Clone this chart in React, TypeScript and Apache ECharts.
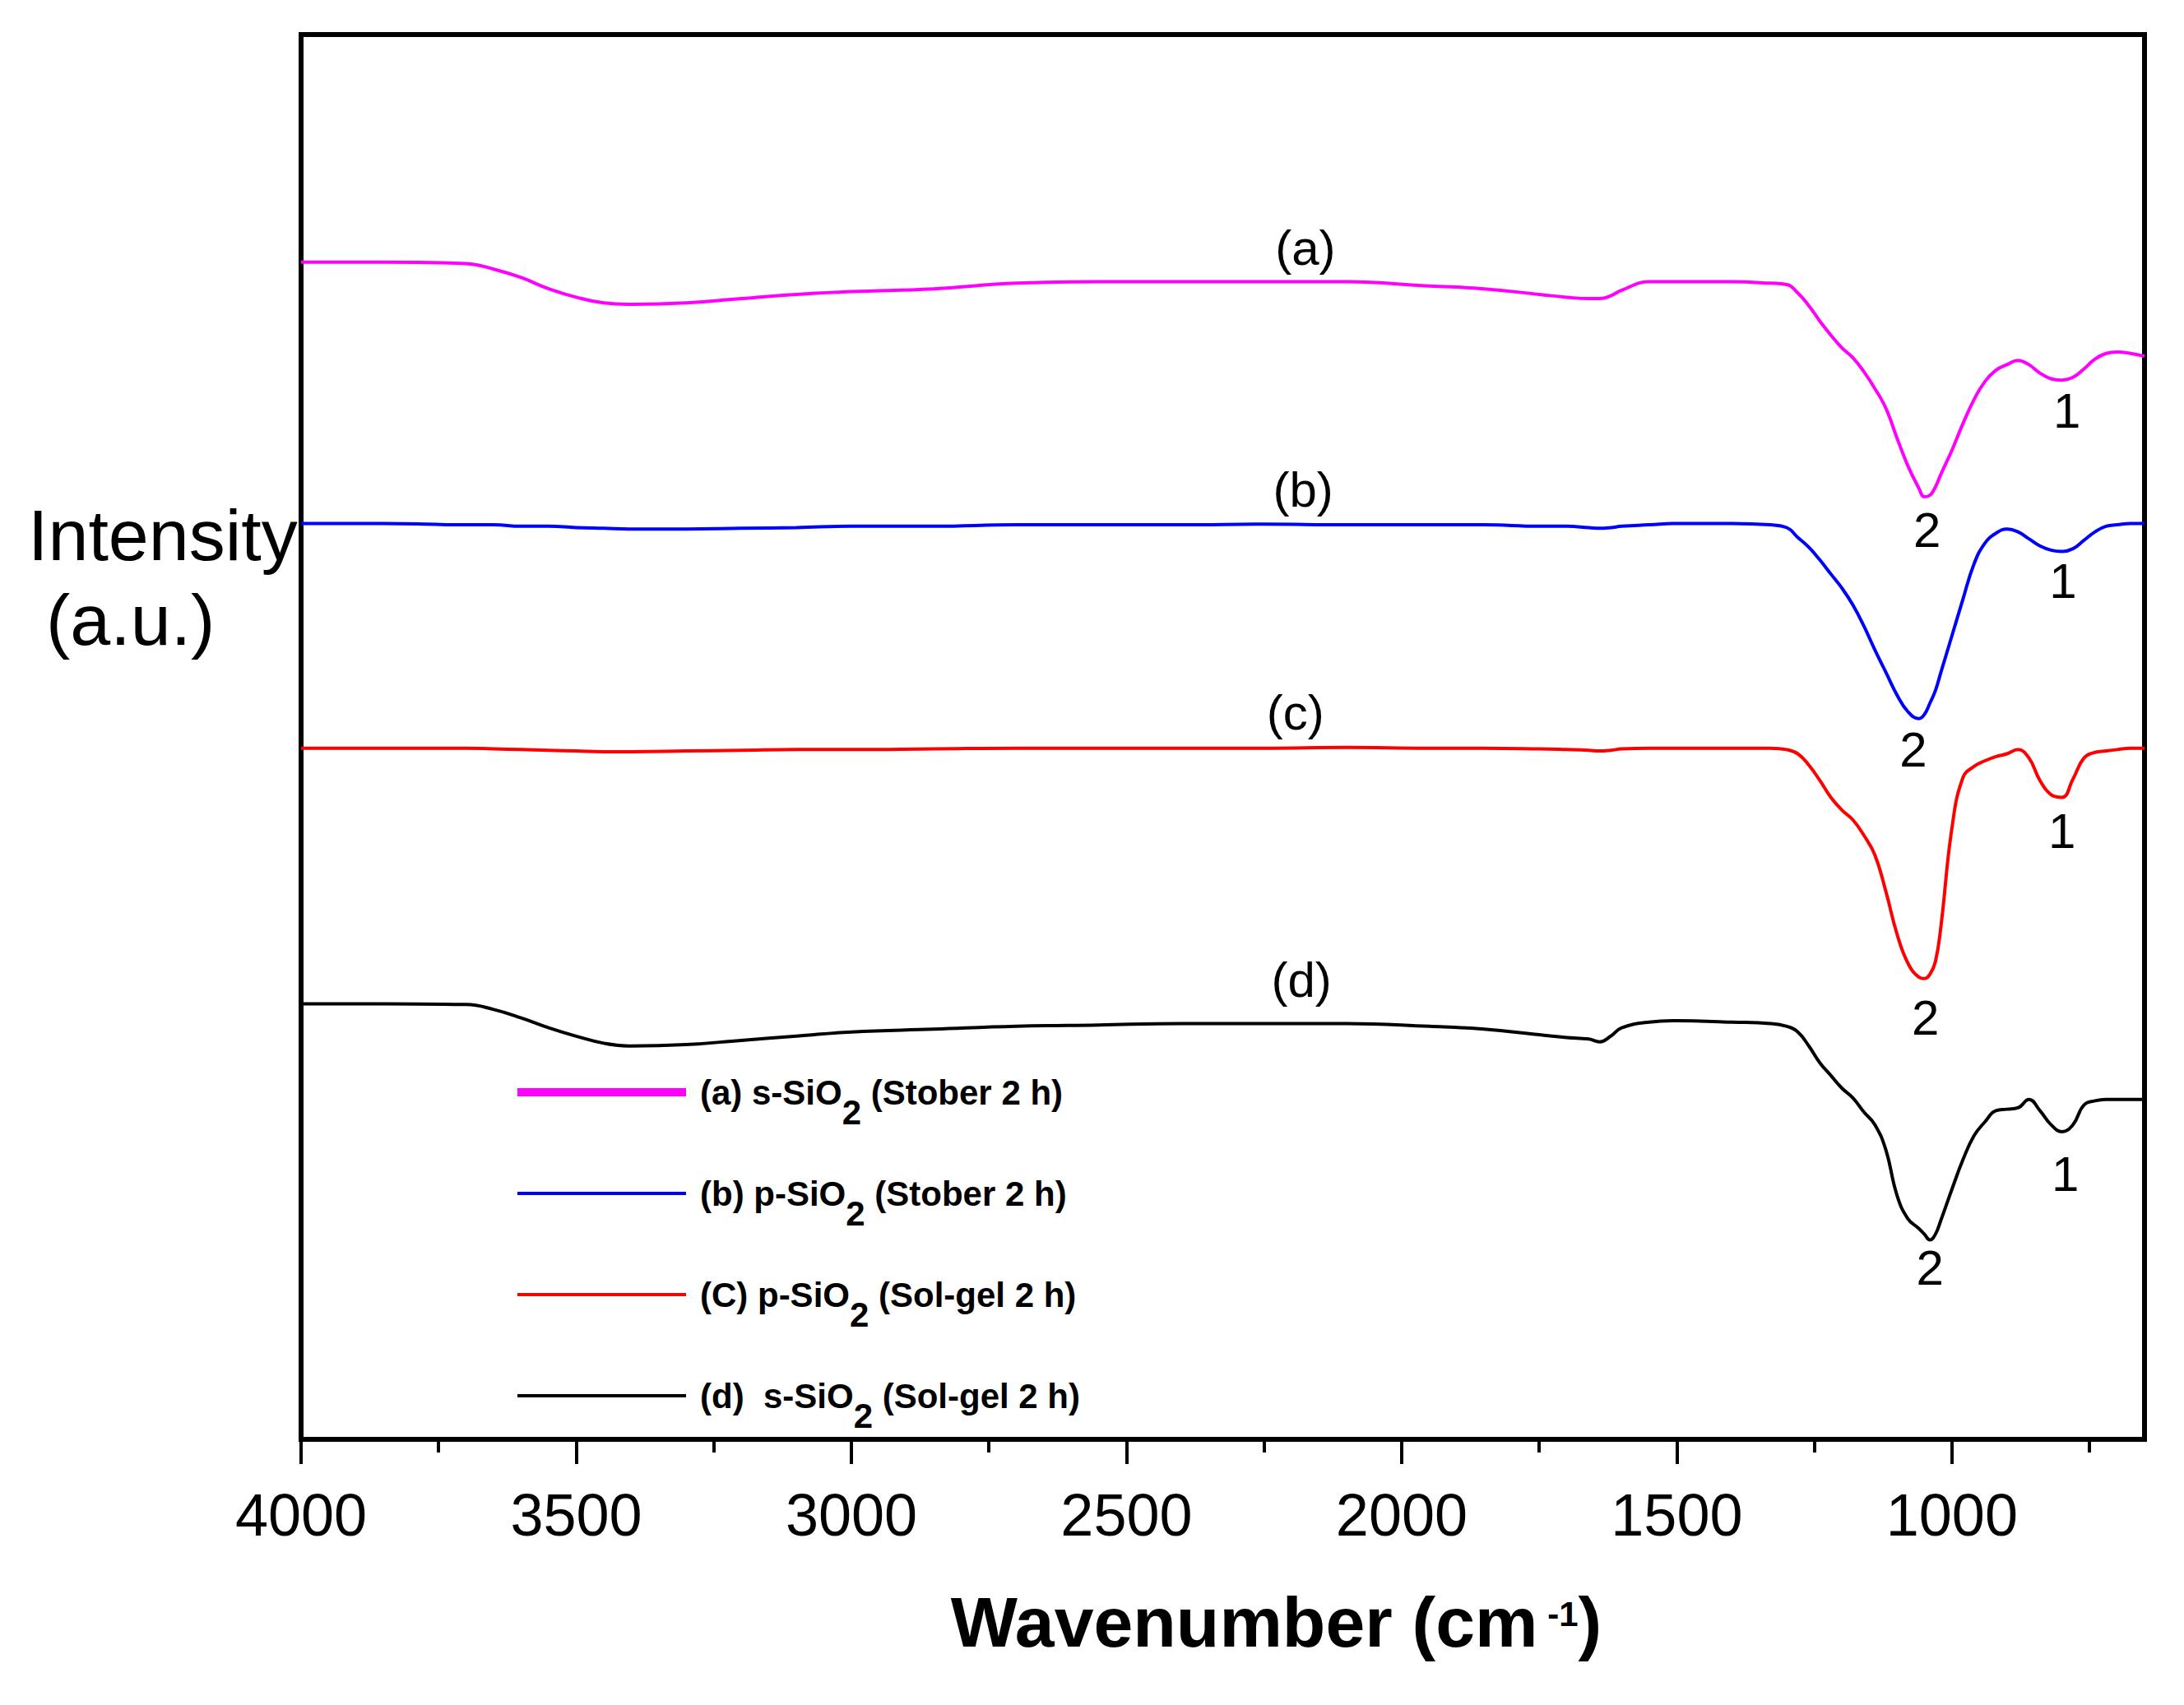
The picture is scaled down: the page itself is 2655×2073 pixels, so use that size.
import { useEffect, useRef } from 'react';
import * as echarts from 'echarts';

const FONT = "'Liberation Sans', Arial, sans-serif";

// wavenumber grid (cm-1), shared by the four spectra
const WAVENUMBERS = [
  4000, 3850, 3700, 3650, 3600, 3550, 3500, 3450, 3400, 3300, 3200, 3100, 3000,
  2850, 2700, 2550, 2400, 2250, 2100, 1950, 1850, 1750, 1700, 1660, 1640, 1620,
  1600, 1550, 1500, 1400, 1330, 1300, 1280, 1260, 1240, 1220, 1200, 1180, 1160,
  1140, 1120, 1100, 1080, 1060, 1050, 1040, 1030, 1020, 1000, 980, 960, 940, 920,
  900, 880, 860, 840, 820, 800, 780, 760, 740, 720, 700, 675, 650,
];

const SERIES_A = [
  83.8, 83.8, 83.7, 83.3, 82.7, 81.9, 81.3, 80.9, 80.8, 80.9, 81.2, 81.5, 81.7,
  81.9, 82.3, 82.4, 82.4, 82.4, 82.4, 82.1, 81.9, 81.5, 81.3, 81.2, 81.2, 81.4,
  81.8, 82.4, 82.4, 82.4, 82.3, 82.2, 81.6, 80.7, 79.6, 78.6, 77.7, 77.0, 76.0,
  74.8, 73.4, 71.3, 69.3, 67.7, 67.1, 67.2, 67.8, 68.7, 70.4, 72.3, 74.0, 75.3, 76.1,
  76.5, 76.8, 76.5, 75.9, 75.5, 75.4, 75.6, 76.2, 76.9, 77.3, 77.4, 77.3, 77.1,
];

const SERIES_B = [
  65.2, 65.2, 65.1, 65.1, 65.0, 65.0, 64.9, 64.85, 64.8, 64.8, 64.85, 64.9, 65.0,
  65.0, 65.1, 65.1, 65.1, 65.15, 65.1, 65.1, 65.1, 65.0, 65.0, 64.9, 64.85, 64.9,
  65.0, 65.1, 65.2, 65.2, 65.1, 64.9, 64.2, 63.5, 62.6, 61.6, 60.6, 59.4, 57.9,
  56.2, 54.6, 53.0, 51.8, 51.3, 51.6, 52.4, 53.3, 54.6, 57.2, 59.8, 62.3, 63.8, 64.5,
  64.8, 64.6, 64.1, 63.6, 63.3, 63.2, 63.4, 64.0, 64.6, 65.0, 65.1, 65.2, 65.2,
];

const SERIES_C = [
  49.2, 49.2, 49.2, 49.15, 49.1, 49.05, 49.0, 48.95, 48.95, 49.0, 49.05, 49.1, 49.1,
  49.15, 49.2, 49.2, 49.2, 49.2, 49.25, 49.2, 49.2, 49.15, 49.1, 49.05, 49.0, 49.05,
  49.15, 49.2, 49.2, 49.2, 49.2, 49.1, 48.8, 48.0, 46.9, 45.7, 44.8, 44.1, 43.0,
  41.6, 39.0, 36.0, 33.9, 32.9, 32.8, 33.1, 34.0, 36.5, 43.5, 47.1, 47.9, 48.3, 48.6,
  48.8, 49.1, 48.5, 46.9, 45.9, 45.7, 47.0, 48.5, 48.9, 49.0, 49.1, 49.2, 49.2,
];

const SERIES_D = [
  31.0, 31.0, 30.95, 30.6, 30.0, 29.3, 28.7, 28.2, 28.0, 28.1, 28.4, 28.7, 29.0,
  29.2, 29.4, 29.5, 29.6, 29.6, 29.6, 29.4, 29.2, 28.8, 28.6, 28.5, 28.3, 28.7,
  29.3, 29.7, 29.8, 29.7, 29.6, 29.4, 29.0, 28.0, 26.8, 25.9, 25.0, 24.3, 23.3,
  22.4, 20.6, 17.4, 15.7, 15.0, 14.6, 14.2, 14.6, 15.6, 17.8, 19.9, 21.6, 22.6, 23.4,
  23.5, 23.6, 24.2, 23.4, 22.4, 21.9, 22.4, 23.8, 24.1, 24.2, 24.2, 24.2, 24.2,
];

const SERIES_NAMES = [
  '(a) s-SiO2 (Stober 2 h)',
  '(b) p-SiO2 (Stober 2 h)',
  '(C) p-SiO2 (Sol-gel 2 h)',
  '(d)  s-SiO2 (Sol-gel 2 h)',
];
const SERIES_COLORS = ['#ff00ff', '#0000ff', '#ff0000', '#000000'];
const LEGEND_WIDTHS = [10, 4, 4, 4];

// curve tags and band labels: [wavenumber, intensity]
const CURVE_TAGS = ['(a)', '(b)', '(c)', '(d)'];
const TAG_POS = [[2175, 84.8], [2179, 67.6], [2193, 51.7], [2182, 32.7]];
const BAND2_POS = [[1045, 64.7], [1070, 49.1], [1048, 30.0], [1040, 12.2]];
const BAND1_POS = [[791, 73.2], [798, 61.1], [800, 43.3], [794, 18.9]];

const MAJOR_TICKS = [1000, 1500, 2000, 2500, 3000, 3500, 4000];
const MINOR_TICKS = [750, 1250, 1750, 2250, 2750, 3250, 3750];

export default function App() {
  const chartRef = useRef<HTMLDivElement>(null);

  useEffect(() => {
    if (!chartRef.current) return;
    document.body.style.margin = '0';
    const chart = echarts.init(chartRef.current, undefined, { renderer: 'svg' });

    const values = [SERIES_A, SERIES_B, SERIES_C, SERIES_D];

    const series = values.map((vals, i) => ({
      name: SERIES_NAMES[i],
      type: 'line' as const,
      symbol: 'none',
      smooth: 0.45,
      data: WAVENUMBERS.map((w, j) => [w, vals[j]]),
      lineStyle: { color: SERIES_COLORS[i], width: 4 },
      itemStyle: { color: SERIES_COLORS[i] },
      markPoint: {
        symbol: 'circle',
        symbolSize: 1,
        itemStyle: { color: 'transparent' },
        label: {
          show: true,
          position: 'inside',
          formatter: '{b}',
          color: '#000',
          fontSize: 60,
          fontFamily: FONT,
        },
        data: [
          { name: CURVE_TAGS[i], coord: TAG_POS[i] },
          { name: '2', coord: BAND2_POS[i] },
          { name: '1', coord: BAND1_POS[i] },
        ],
      },
    }));

    const option: echarts.EChartsOption = {
      animation: false,
      backgroundColor: '#ffffff',
      grid: {
        left: 366,
        right: 48,
        top: 42,
        bottom: 323,
        show: true,
        borderColor: '#000',
        borderWidth: 6,
      },
      legend: {
        orient: 'vertical',
        left: 624,
        top: 1283,
        padding: 0,
        itemWidth: 205,
        itemHeight: 12,
        itemGap: 33,
        data: SERIES_NAMES.map((n, i) => ({
          name: n,
          lineStyle: { width: LEGEND_WIDTHS[i] },
          itemStyle: { opacity: 0 },
        })),
        formatter: (name: string) => {
          const [pre, post] = name.split('SiO2');
          return `{p|${pre}SiO}{sub|2}{t|${post}}`;
        },
        textStyle: {
          rich: {
            p: {
              fontFamily: FONT,
              fontWeight: 'bold',
              fontSize: 42,
              color: '#000',
              lineHeight: 50,
              padding: [0, 0, 0, 12],
            },
            t: {
              fontFamily: FONT,
              fontWeight: 'bold',
              fontSize: 42,
              color: '#000',
              lineHeight: 50,
            },
            sub: {
              fontFamily: FONT,
              fontWeight: 'bold',
              fontSize: 42,
              color: '#000',
              lineHeight: 40,
              padding: [48, 0, 0, 0],
            },
          },
        },
      },
      xAxis: [
        {
          type: 'value',
          inverse: true,
          min: 650,
          max: 4000,
          name: '{b|Wavenumber (cm}{sup| -1}{b|)}',
          nameLocation: 'middle',
          nameGap: 170,
          nameTextStyle: {
            padding: [0, 0, 0, 130],
            rich: {
              b: { fontFamily: FONT, fontWeight: 'bold', fontSize: 86, color: '#000', lineHeight: 104 },
              sup: {
                fontFamily: FONT,
                fontWeight: 'bold',
                fontSize: 42,
                color: '#000',
                lineHeight: 42,
                padding: [0, 0, 20, 0],
              },
            },
          },
          axisLine: { show: true, lineStyle: { color: '#000', width: 6 } },
          axisTick: {
            show: true,
            customValues: MAJOR_TICKS,
            length: 30,
            lineStyle: { color: '#000', width: 4 },
          },
          axisLabel: {
            customValues: MAJOR_TICKS,
            formatter: (v: number) => String(v),
            margin: 56,
            fontSize: 72,
            fontFamily: FONT,
            color: '#000',
          },
          splitLine: { show: false },
        },
        {
          type: 'value',
          inverse: true,
          min: 650,
          max: 4000,
          position: 'bottom',
          axisLine: { show: false },
          axisTick: {
            show: true,
            customValues: MINOR_TICKS,
            length: 16,
            lineStyle: { color: '#000', width: 4 },
          },
          axisLabel: { show: false },
          splitLine: { show: false },
        },
      ],
      yAxis: {
        type: 'value',
        min: 0,
        max: 100,
        axisLine: { show: false },
        axisTick: { show: false },
        axisLabel: { show: false },
        splitLine: { show: false },
      },
      graphic: [
        {
          type: 'text',
          x: 34,
          y: 650,
          style: {
            text: 'Intensity',
            fontSize: 88,
            fontFamily: FONT,
            fill: '#000',
            align: 'left',
            verticalAlign: 'middle',
          },
        },
        {
          type: 'text',
          x: 56,
          y: 753,
          style: {
            text: '(a.u.)',
            fontSize: 88,
            fontFamily: FONT,
            fill: '#000',
            align: 'left',
            verticalAlign: 'middle',
          },
        },
      ],
      series,
    };

    chart.setOption(option);
    return () => {
      chart.dispose();
    };
  }, []);

  return <div ref={chartRef} style={{ width: '2655px', height: '2073px' }} />;
}
